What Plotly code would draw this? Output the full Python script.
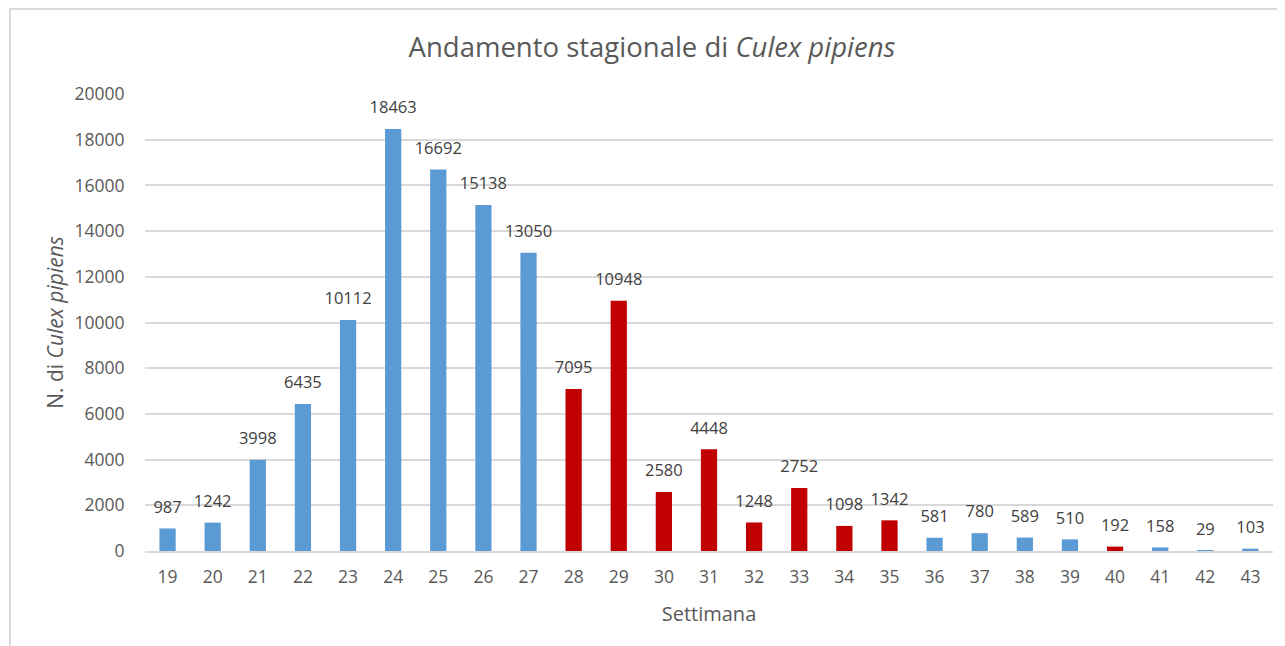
import plotly.graph_objects as go

weeks = [str(w) for w in range(19, 44)]
counts = [987, 1242, 3998, 6435, 10112, 18463, 16692, 15138, 13050, 7095, 10948,
          2580, 4448, 1248, 2752, 1098, 1342, 581, 780, 589, 510, 192, 158, 29, 103]
highlight_weeks = ["28", "29", "30", "31", "32", "33", "34", "35", "40"]
y_ticks = list(range(0, 20001, 2000))

BLUE = "#5B9BD5"
RED = "#C00000"
colors = [RED if w in highlight_weeks else BLUE for w in weeks]

FONT = "'Open Sans', Lato, sans-serif"

# the page places the figure at an 8px offset (body margin)
OFF = 8
W, H = 1285, 646
ml = 145 - OFF
mt = 94 - OFF
mb = H - (551 - OFF)
mr = W - (1273 - OFF)
pw = W - ml - mr
ph = H - mt - mb

fig = go.Figure()
fig.add_trace(go.Bar(
    x=weeks, y=counts,
    marker=dict(color=colors, line=dict(width=0)),
    width=0.36,
    hoverinfo="x+y",
))
fig.add_trace(go.Scatter(
    x=weeks, y=counts,
    mode="markers+text",
    marker=dict(size=17, color="rgba(0,0,0,0)"),
    text=[str(c) for c in counts],
    textposition="top center",
    textfont=dict(size=16.5, color="#404040", family=FONT),
    cliponaxis=False,
    hoverinfo="skip",
))

fig.update_layout(
    width=W, height=H,
    margin=dict(l=ml, r=mr, t=mt, b=mb),
    paper_bgcolor="white", plot_bgcolor="white",
    showlegend=False,
    font=dict(family=FONT, color="#595959"),
    title=dict(text="Andamento stagionale di <i>Culex pipiens</i>",
               x=(652 - OFF) / W, xref="container", xanchor="center",
               y=1 - (47 - OFF) / H, yref="container", yanchor="middle",
               font=dict(size=27.5, color="#595959", family=FONT)),
    xaxis=dict(type="category", range=[-0.5, len(weeks) - 0.5],
               showgrid=False, showline=True,
               linecolor="#D9D9D9", linewidth=1.5,
               ticks="outside", ticklen=9, tickcolor="rgba(0,0,0,0)",
               tickfont=dict(size=17.5, color="#595959"),
               title=dict(text="Settimana", font=dict(size=20, color="#595959"), standoff=20)),
    yaxis=dict(range=[0, 20000], tickvals=y_ticks, ticktext=[str(v) for v in y_ticks],
               showgrid=True, gridcolor="#D9D9D9", gridwidth=1.5,
               zeroline=False, showline=False,
               ticks="outside", ticklen=16, tickcolor="rgba(0,0,0,0)",
               tickfont=dict(size=17.5, color="#595959"),
               title=dict(text="N. di <i>Culex pipiens</i>", font=dict(size=21, color="#595959"), standoff=5)),
)

# chart-area border (extends beyond the visible canvas at right and bottom)
x0 = (10 - OFF - ml) / pw
x1 = (1300 - ml) / pw
y1 = (H - mb - 1) / ph
y0 = (H - mb - 700) / ph
fig.add_shape(type="rect", xref="paper", yref="paper", x0=x0, x1=x1, y0=y0, y1=y1,
              line=dict(color="#D9D9D9", width=2), fillcolor="rgba(0,0,0,0)", layer="below")

fig.write_html("out.html")
